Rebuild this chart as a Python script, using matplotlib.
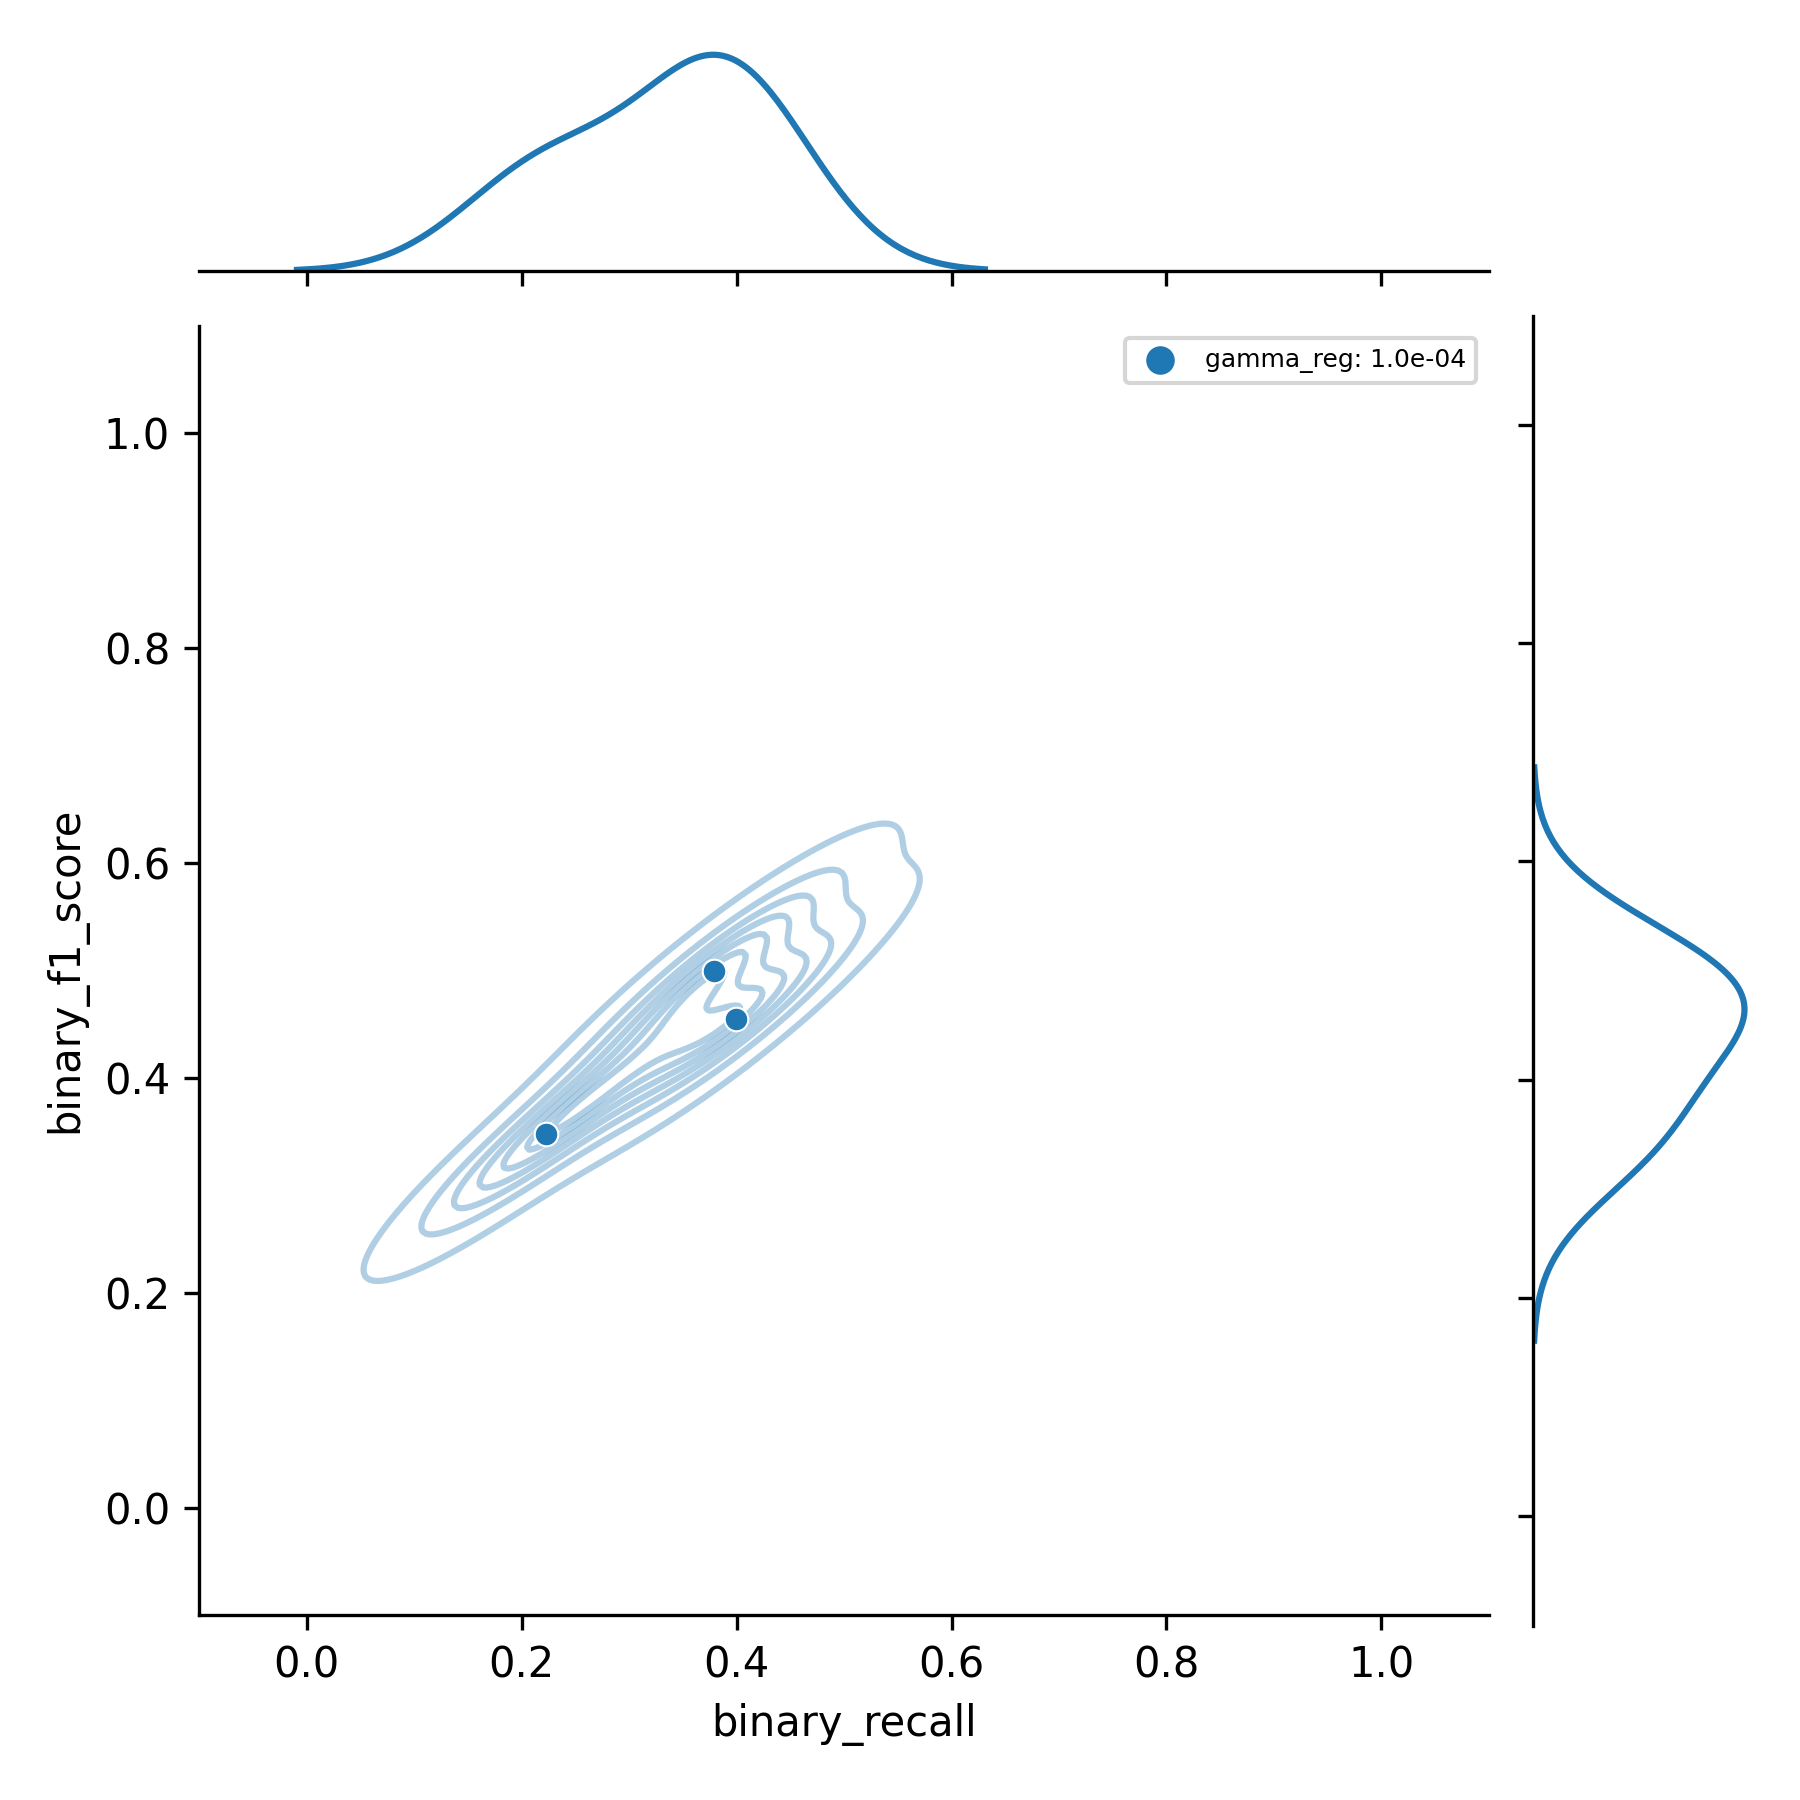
import matplotlib
matplotlib.use("Agg")
import matplotlib.pyplot as plt
import seaborn as sns

recall = [0.223, 0.379, 0.399]
f1_score = [0.348, 0.499, 0.455]
ticks = [0.0, 0.2, 0.4, 0.6, 0.8, 1.0]
label = "gamma_reg: 1.0e-04"
blue = "#1f77b4"

fig = plt.figure(figsize=(6, 6), dpi=300)
W = 1800.0

# axes boxes in pixels measured from the reference, not a regular jointplot grid
ax = fig.add_axes([199.3/W, (W-1615)/W, 1289.5/W, 1289.5/W])
ax_top = fig.add_axes([199.3/W, (W-271)/W, 1289.5/W, 227/W])
ax_right = fig.add_axes([1533/W, (W-1625.5)/W, 222/W, 1310/W])

sns.kdeplot(x=recall, y=f1_score, ax=ax, color=blue, alpha=0.35, linewidths=1.5, levels=8)
ax.scatter(recall, f1_score, s=32, color=blue, edgecolor="white", linewidth=0.5, label=label, zorder=3)

ax.set_xlim(-0.1, 1.1)
ax.set_ylim(-0.1, 1.1)
ax.set_xticks(ticks)
ax.set_yticks(ticks)
ax.set_xlabel("binary_recall")
ax.set_ylabel("binary_f1_score")
ax.spines[["top", "right"]].set_visible(False)
ax.legend(loc="upper right", fontsize=6, markerscale=1.3)

sns.kdeplot(x=recall, ax=ax_top, color=blue, linewidth=1.5)
ax_top.set_xlim(-0.1, 1.1)
ax_top.set_xticks(ticks)
ax_top.set_ylim(bottom=0)
ax_top.tick_params(labelbottom=False)
ax_top.set_yticks([])
ax_top.set_xlabel("")
ax_top.set_ylabel("")
ax_top.spines[["top", "right", "left"]].set_visible(False)
ax_top.patch.set_alpha(0)

sns.kdeplot(y=f1_score, ax=ax_right, color=blue, linewidth=1.5)
ax_right.set_ylim(-0.1, 1.1)
ax_right.set_yticks(ticks)
ax_right.set_xlim(left=0)
ax_right.tick_params(labelleft=False)
ax_right.set_xticks([])
ax_right.set_xlabel("")
ax_right.set_ylabel("")
ax_right.spines[["top", "right", "bottom"]].set_visible(False)
ax_right.patch.set_alpha(0)

fig.savefig("out.png", dpi=300)
